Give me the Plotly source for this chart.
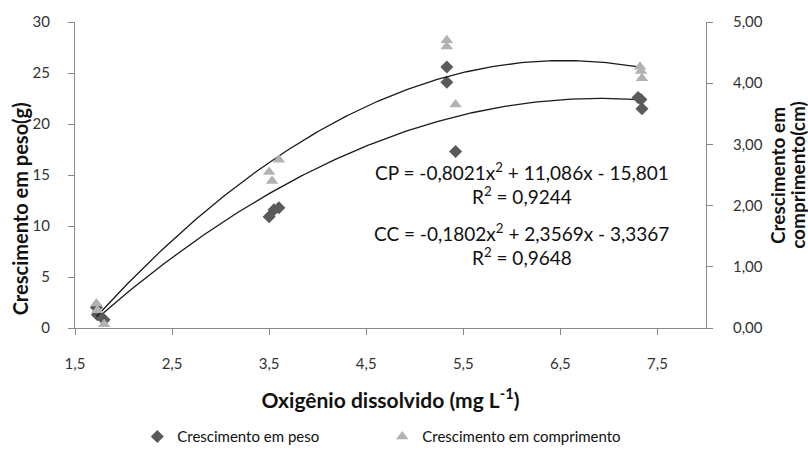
import plotly.graph_objects as go
import numpy as np

# Data
peso_x = [1.72, 1.73, 1.80, 3.50, 3.55, 3.60, 5.33, 5.33, 5.42, 7.30, 7.33, 7.34]
peso_y = [2.0, 1.3, 0.8, 10.9, 11.6, 11.8, 25.6, 24.1, 17.3, 22.6, 22.4, 21.5]
comp_x = [1.72, 1.73, 1.80, 3.50, 3.53, 3.60, 5.33, 5.33, 5.42, 7.32, 7.33, 7.34]
comp_y = [0.40, 0.29, 0.06, 2.55, 2.40, 2.75, 4.70, 4.60, 3.65, 4.27, 4.20, 4.08]

# Trendline coefficients as printed on the chart (a, b, c)
cp_coef = [-0.8021, 11.086, -15.801]
cc_coef = [-0.1802, 2.3569, -3.3367]

x_ticks = [1.5, 2.5, 3.5, 4.5, 5.5, 6.5, 7.5]
left_ticks = [0, 5, 10, 15, 20, 25, 30]
right_ticks = [0, 1, 2, 3, 4, 5]

xs = np.linspace(min(peso_x), max(peso_x), 200)
cp_line = np.polyval(cp_coef, xs)
xs2 = np.linspace(min(comp_x), max(comp_x), 200)
cc_line = np.polyval(cc_coef, xs2)

FONT = "Lato"
AX = "#868686"
TXT = "#111111"

fig = go.Figure()
fig.add_trace(go.Scatter(x=xs, y=cp_line, mode="lines", line=dict(color="#1a1a1a", width=1.3),
                         showlegend=False, hoverinfo="skip"))
fig.add_trace(go.Scatter(x=xs2, y=cc_line, mode="lines", line=dict(color="#1a1a1a", width=1.3),
                         showlegend=False, hoverinfo="skip", yaxis="y2"))
fig.add_trace(go.Scatter(x=peso_x, y=peso_y, mode="markers", name="Crescimento em peso",
                         marker=dict(symbol="diamond", size=10, color="#5a5a5a")))
fig.add_trace(go.Scatter(x=comp_x, y=comp_y, mode="markers", name="Crescimento em comprimento",
                         marker=dict(symbol="triangle-up", size=11, color="#b2b2b2"), yaxis="y2"))

ann_font = dict(family=FONT, size=19, color=TXT)
fig.add_annotation(x=6.1, y=15.3, text="CP = -0,8021x<sup>2</sup> + 11,086x - 15,801", showarrow=False, font=ann_font)
fig.add_annotation(x=6.1, y=13.0, text="R<sup>2</sup> = 0,9244", showarrow=False, font=ann_font)
fig.add_annotation(x=6.1, y=9.4, text="CC = -0,1802x<sup>2</sup> + 2,3569x - 3,3367", showarrow=False, font=ann_font)
fig.add_annotation(x=6.1, y=7.0, text="R<sup>2</sup> = 0,9648", showarrow=False, font=ann_font)

# Axis titles (placed as in the reference)
fig.add_annotation(xref="paper", yref="paper", x=-0.0872, y=0.391, textangle=-90,
                   xanchor="center", yanchor="middle",
                   text="<b>Crescimento em peso(g)</b>", showarrow=False,
                   font=dict(family=FONT, size=20, color=TXT))
fig.add_annotation(xref="paper", yref="paper", x=1.1125, y=0.5, textangle=-90,
                   xanchor="center", yanchor="middle",
                   text="<b>Crescimento em</b>", showarrow=False,
                   font=dict(family=FONT, size=19, color=TXT))
fig.add_annotation(xref="paper", yref="paper", x=1.144, y=0.5, textangle=-90,
                   xanchor="center", yanchor="middle",
                   text="<b>comprimento(cm)</b>", showarrow=False,
                   font=dict(family=FONT, size=19, color=TXT))

fig.update_layout(
    width=808, height=465,
    margin=dict(l=75, r=102, t=19, b=124),
    plot_bgcolor="white", paper_bgcolor="white",
    separators=",.",
    font=dict(family=FONT, size=15, color="#333333"),
    xaxis=dict(range=[1.5, 8], tickvals=x_ticks, tickformat=".1f", showline=True, linecolor=AX,
               ticks="outside", tickcolor=AX, ticklen=6, showgrid=False, zeroline=False,
               ticklabelstandoff=16,
               title=dict(text="<b>Oxigênio dissolvido (mg L<sup>-1</sup>)</b>",
                          font=dict(family=FONT, size=21, color=TXT), standoff=22)),
    yaxis=dict(range=[0, 30], tickvals=left_ticks, showline=True, linecolor=AX,
               ticks="outside", tickcolor=AX, ticklen=6, showgrid=False, zeroline=False,
               ticklabelstandoff=15),
    yaxis2=dict(range=[0, 5], tickvals=right_ticks, tickformat=".2f", overlaying="y", side="right",
                showline=True, linecolor=AX, ticks="outside", tickcolor=AX, ticklen=6,
                showgrid=False, zeroline=False, ticklabelstandoff=17),
    legend=dict(orientation="h", x=0.487, xanchor="center", y=-0.355, yanchor="middle",
                font=dict(family=FONT, size=15, color=TXT), itemwidth=30,
                entrywidth=200, entrywidthmode="pixels"),
)

fig.write_html("out.html")
